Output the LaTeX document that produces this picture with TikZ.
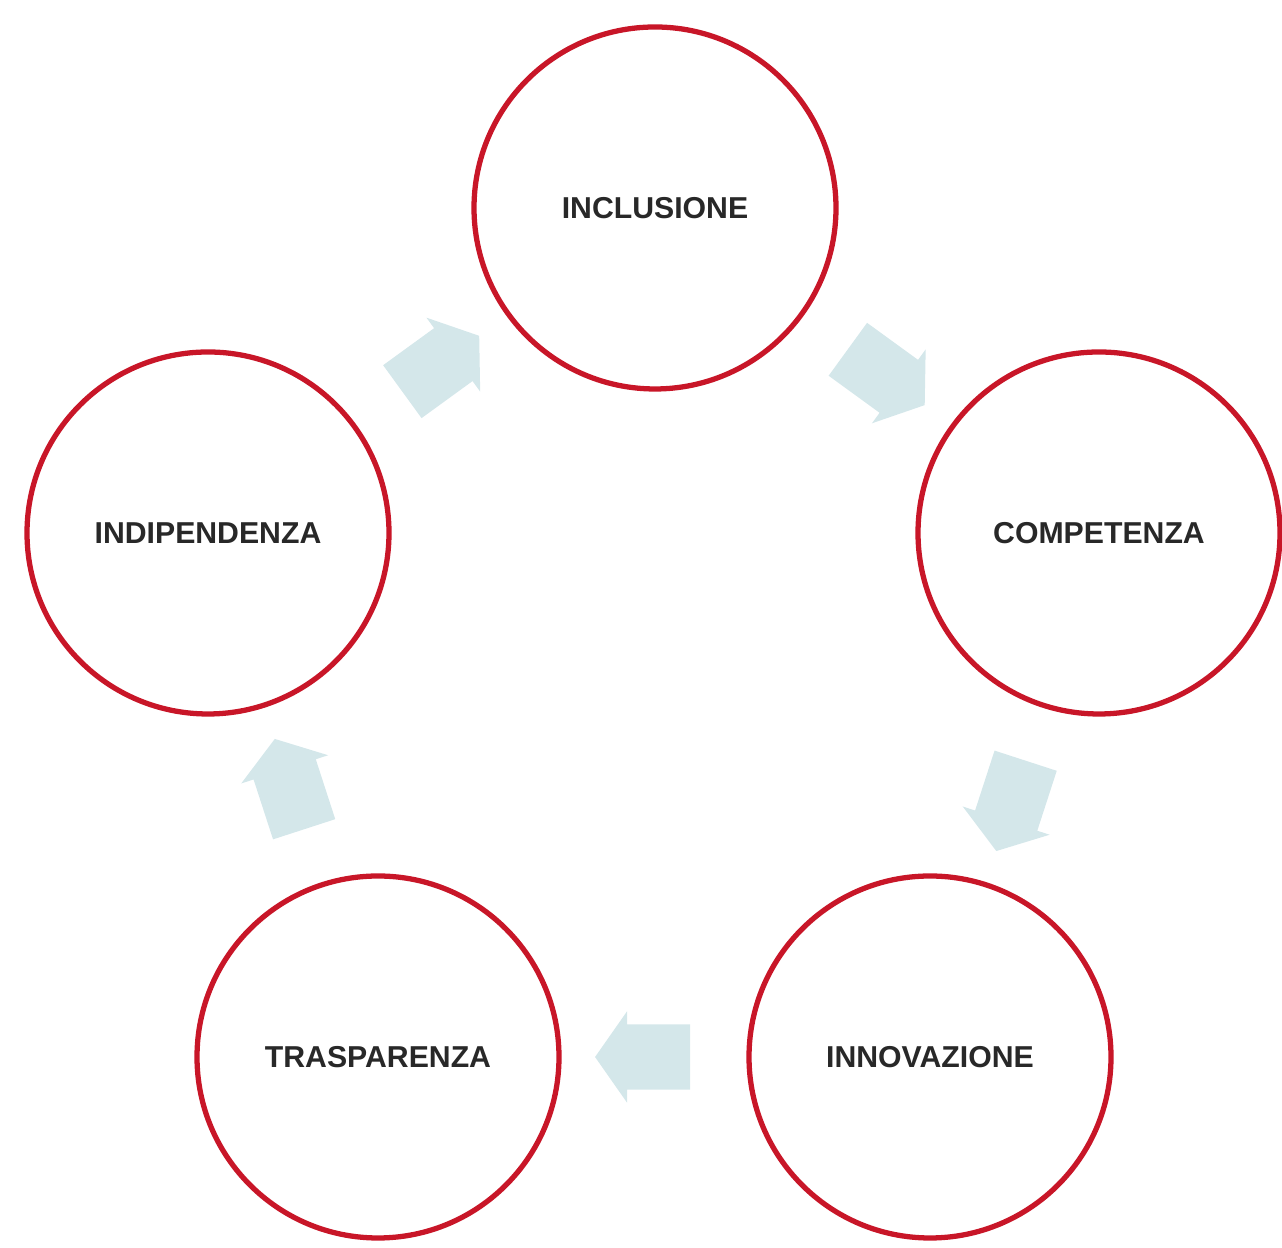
\documentclass[tikz,border=0pt]{standalone}
\usepackage{fontspec}
\setmainfont{Liberation Sans}
\usepackage{tikz}
\usetikzlibrary{shapes.arrows,calc}
\definecolor{ringred}{RGB}{200,22,40}
\definecolor{arrowblue}{RGB}{212,231,234}
\definecolor{labelgray}{RGB}{40,40,40}

\begin{document}
\begin{tikzpicture}[
    value/.style={circle,draw=ringred,line width=1.5pt,minimum size=3.62cm,inner sep=0pt,
      font=\fontsize{8.6}{10}\selectfont\bfseries,text=labelgray},
    cyclearrow/.style={single arrow,fill=arrowblue,draw=none,inner xsep=0pt,inner ysep=0.32cm,
      minimum height=0.95cm,single arrow head extend=0.13cm,
      single arrow tip angle=110,single arrow head indent=0pt}]
  \useasboundingbox (0,0) rectangle (12.82,12.48);
  \node[value] (incl) at (6.55,10.40) {INCLUSIONE};
  \node[value] (comp) at (10.99,7.15) {COMPETENZA};
  \node[value] (inno) at (9.30,1.91)  {INNOVAZIONE};
  \node[value] (tras) at (3.78,1.91)  {TRASPARENZA};
  \node[value] (indi) at (2.08,7.15)  {INDIPENDENZA};

  \node[cyclearrow,rotate=-36]  (a1) at ($(incl)!0.5!(comp)$) {};
  \node[cyclearrow,rotate=-108] (a2) at ($(comp)!0.5!(inno)$) {};
  \node[cyclearrow,rotate=180]  (a3) at ($(inno)!0.5!(tras)$) {};
  \node[cyclearrow,rotate=108]  (a4) at ($(tras)!0.5!(indi)$) {};
  \node[cyclearrow,rotate=36]   (a5) at ($(indi)!0.5!(incl)$) {};
\end{tikzpicture}
\end{document}
